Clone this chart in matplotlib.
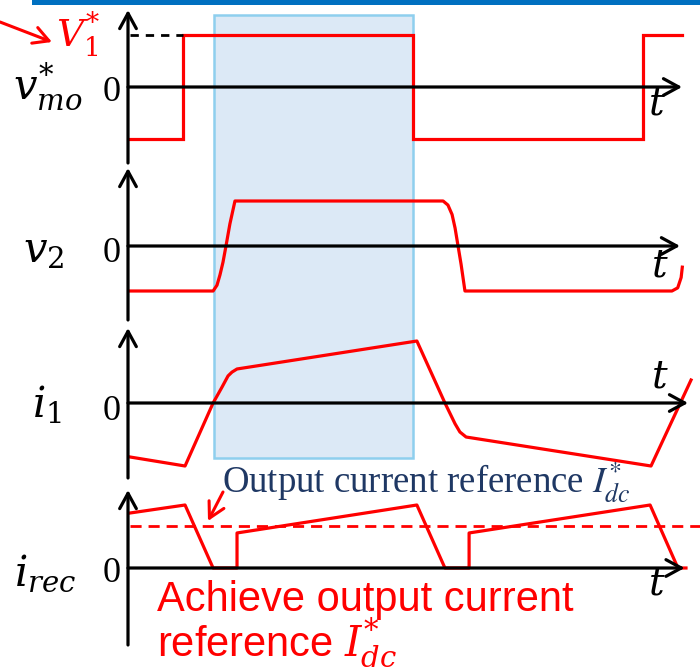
import numpy as np
import matplotlib.pyplot as plt
from matplotlib.patches import Rectangle, FancyArrowPatch
from matplotlib.transforms import blended_transform_factory

plt.rcParams['mathtext.fontset'] = 'stix'
plt.rcParams['font.family'] = 'Liberation Serif'

# time in units of half switching period
t_vmo = [0.01, 0.24, 0.24, 1.24, 1.24, 2.24, 2.24, 2.41]
v_mo = [-1, -1, 1, 1, -1, -1, 1, 1]
V1_level = 1.0

t_v2 = [0.01, 0.370, 0.387, 0.400, 0.413, 0.426, 0.443, 0.465,
        1.370, 1.391, 1.409, 1.422, 1.435, 1.448, 1.465,
        2.365, 2.39, 2.405, 2.41]
v_2 = [-1, -1, -0.87, -0.64, -0.36, 0, 0.49, 1,
       1, 0.91, 0.7, 0.4, 0, -0.4, -1,
       -1, -0.93, -0.7, -0.47]

t_i1 = [0.009, 0.248, 0.370, 0.409, 0.435, 0.452, 0.474, 1.256,
        1.378, 1.422, 1.443, 1.470, 2.274, 2.448]
i_1 = [-0.857, -1.0, 0, 0.254, 0.43, 0.49, 0.54, 0.984,
       0, -0.33, -0.46, -0.54, -1.0, 0.365]

t_irec = [0.009, 0.248, 0.370, 0.474, 0.474, 1.256, 1.378,
          1.483, 1.483, 2.27, 2.391, 2.426]
i_rec = [0.873, 1.0, 0, 0, 0.556, 1.0, 0, 0, 0.556, 1.0, 0, 0]
I_dc_ref = 0.667

t_box = [0.374, 1.239]

W, H = 700, 671
RED = '#ff0000'
fig = plt.figure(figsize=(7, 6.71), dpi=100)


def fx(x):
    return x / W


def fy(y):
    return 1 - y / H


X0 = 128          # pixel of t = 0
KX = 230          # pixels per time unit
TMAX = (W - X0) / KX
ARROW = '->,head_length=0.55,head_width=0.3'


def panel(zero, scale, top, bottom, t_end):
    ax = fig.add_axes([fx(X0), fy(bottom), (W - X0) / W, (bottom - top) / H])
    ax.set_xlim(0, TMAX)
    ax.set_ylim((zero - bottom) / scale, (zero - top) / scale)
    ax.axis('off')
    arr = dict(arrowstyle=ARROW, lw=2.3, color='black', mutation_scale=20,
               shrinkA=0, shrinkB=0)
    ax.annotate('', xy=(t_end, 0), xytext=(0, 0), arrowprops=arr,
                annotation_clip=False)
    ax.annotate('', xy=(0, (zero - top) / scale), xytext=(0, (zero - bottom) / scale),
                arrowprops=arr, annotation_clip=False)
    return ax


ax1 = panel(87, 51.5, 10, 163, 2.409)
ax2 = panel(246, 45, 168, 320, 2.40)
ax3 = panel(403, 63, 328, 478, 2.435)
ax4 = panel(568, 63, 490, 645, 2.42)

ax1.plot(t_vmo, v_mo, color=RED, lw=2.3, solid_joinstyle='miter', clip_on=False)
ax1.plot([0.01, 0.24], [V1_level, V1_level], color='black', lw=2, ls=(0, (3, 2.5)))
ax2.plot(t_v2, v_2, color=RED, lw=2.3, clip_on=False)
ax3.plot(t_i1, i_1, color=RED, lw=2.3, clip_on=False)
ax4.plot(t_irec, i_rec, color=RED, lw=2.3, clip_on=False)
ax4.plot([0.009, TMAX], [I_dc_ref, I_dc_ref], color=RED, lw=2, ls=(0, (4, 2.5)))

# highlighted interval
tr = blended_transform_factory(ax1.transData, fig.transFigure)
fig.patches.append(Rectangle((t_box[0], fy(458)), t_box[1] - t_box[0], fy(15) - fy(458),
                             transform=tr, facecolor='#dce9f6', edgecolor='#8ecfee',
                             lw=1.8, zorder=-1))
# top bar
fig.patches.append(Rectangle((fx(32), fy(5)), 1 - fx(32), fy(0) - fy(5),
                             transform=fig.transFigure, facecolor='#0070c0',
                             edgecolor='none', zorder=-1))

# labels
lab = 30
mf = 'dejavuserif'
fig.text(fx(13), fy(100), r'$v_{mo}^{*}$', fontsize=lab, va='baseline', math_fontfamily=mf)
fig.text(fx(23), fy(262), r'$v_{2}$', fontsize=lab, va='baseline', math_fontfamily=mf)
fig.text(fx(32), fy(417), r'$i_{1}$', fontsize=lab, va='baseline', math_fontfamily=mf)
fig.text(fx(14), fy(585), r'$i_{rec}$', fontsize=lab, va='baseline', math_fontfamily=mf)
for y0 in [101, 262, 420, 582]:
    fig.text(fx(121), fy(y0), '0', fontsize=26, ha='right', va='baseline')
for xt, yt in [(657, 105), (660, 267), (660, 378), (657, 585)]:
    fig.text(fx(xt), fy(yt), r'$t$', fontsize=28, ha='center', va='center',
             math_fontfamily=mf)

fig.text(fx(56), fy(47), r'$V_{1}^{*}$', fontsize=27, color=RED, va='baseline',
         math_fontfamily=mf)
fig.add_artist(FancyArrowPatch(
    (fx(0), fy(22)), (fx(52), fy(42)), transform=fig.transFigure,
    arrowstyle=ARROW, mutation_scale=20, color=RED, lw=2.2, shrinkA=0, shrinkB=0))
fig.add_artist(FancyArrowPatch(
    (fx(223), fy(492)), (fx(208), fy(521)), transform=fig.transFigure,
    arrowstyle=ARROW, mutation_scale=20, color=RED, lw=2.2, shrinkA=0, shrinkB=0))

fig.text(fx(222), fy(493), r'Output current reference $I_{dc}^{*}$', fontsize=26.5,
         color='#1f3864', va='baseline')
fig.text(fx(157), fy(580), 'Achieve output current\n' + r'reference $I_{dc}^{*}$',
         fontsize=30, color=RED, family='Liberation Sans', va='top',
         linespacing=0.9, math_fontfamily=mf)

fig.savefig('out.png', dpi=100)
